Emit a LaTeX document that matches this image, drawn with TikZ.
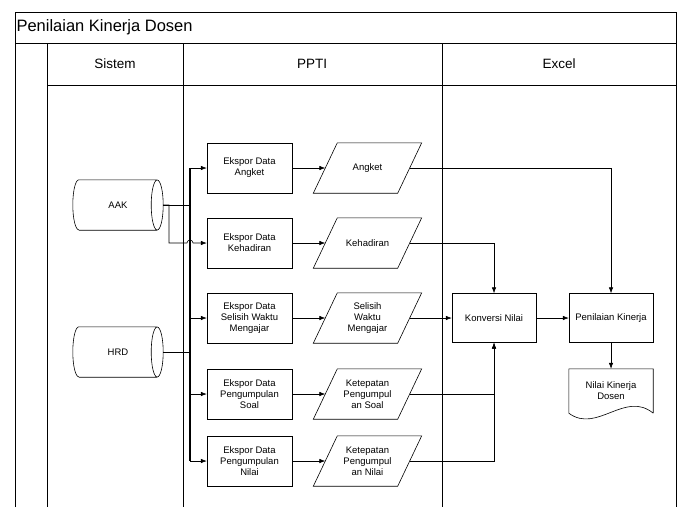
\documentclass[tikz,border=0pt]{standalone}
\usepackage{fontspec}
\setmainfont{Liberation Sans}
\usetikzlibrary{arrows.meta,calc}

\begin{document}
\begin{tikzpicture}[x=1pt,y=-1pt,
   >={Latex[length=6pt,width=4.5pt]},
   small/.style={font=\fontsize{9.5}{11}\selectfont},
   head/.style={font=\fontsize{13.5}{15}\selectfont},
   proc/.style={rectangle,draw,small,align=center,minimum width=85pt,
    minimum height=50pt,inner sep=1pt},
   io/.style={rectangle,small,align=center,minimum width=84pt,
    minimum height=50pt,inner sep=1pt},
   db/.style={rectangle,small,minimum width=90pt,minimum height=50pt,
    inner sep=1pt},
   flow/.style={->,line width=0.6pt}
    ]

    \useasboundingbox (0,0) rectangle (679,507);

    % Frame:
    \draw[line width=0.7pt] (15,507) -- (15,12) -- (676,12) -- (676,507);
    \draw[line width=0.7pt] (15,43) -- (676,43);
    \draw[line width=0.7pt] (47,85) -- (676,85);
    \draw[line width=0.7pt] (47,43) -- (47,507);
    \draw[line width=0.7pt] (183,43) -- (183,507);
    \draw[line width=0.7pt] (442,43) -- (442,507);
    \node[anchor=west,font=\fontsize{16.5}{18}\selectfont] at (13,27) (title) {Penilaian Kinerja Dosen};
    \node[head] at (115,64) (sistem) {Sistem};
    \node[head] at (312,64) (ppti) {PPTI};
    \node[head] at (559,64) (excel) {Excel};

    % Databases (drawn as cylinders):
    \node[db] at (118,205) (aak) {AAK};
    \node[db] at (118,352) (hrd) {HRD};
    \foreach \n in {aak,hrd}
      \draw[line width=0.6pt] ($(\n.south west)+(6,0)$) -- ($(\n.south east)+(-6,0)$)
        ($(\n.north east)+(-6,0)$) -- ($(\n.north west)+(6,0)$)
        arc (270:90:6 and 25)
        ($(\n.east)+(-6,0)$) ellipse (6 and 25);

    % Ekspor boxes:
    \node[proc] at (249.5,168) (e1) {Ekspor Data\\Angket};
    \node[proc] at (249.5,243) (e2) {Ekspor Data\\Kehadiran};
    \node[proc] at (249.5,318) (e3) {Ekspor Data\\Selisih Waktu\\Mengajar};
    \node[proc] at (249.5,394) (e4) {Ekspor Data\\Pengumpulan\\Soal};
    \node[proc] at (249.5,461) (e5) {Ekspor Data\\Pengumpulan\\Nilai};

    % Data (slanted outlines):
    \node[io] at (367.5,168) (d1) {Angket};
    \node[io] at (367.5,243) (d2) {Kehadiran};
    \node[io] at (367.5,318) (d3) {Selisih\\Waktu\\Mengajar};
    \node[io] at (367.5,394) (d4) {Ketepatan\\Pengumpul\\an Soal};
    \node[io] at (367.5,461) (d5) {Ketepatan\\Pengumpul\\an Nilai};
    \foreach \i in {1,...,5}
      \draw[line width=0.6pt] ($(d\i.south west)+(-12,0)$) -- ($(d\i.north west)+(12,0)$)
        -- ($(d\i.north east)+(12,0)$) -- ($(d\i.south east)+(-12,0)$) -- cycle;

    % Excel:
    \node[proc,minimum width=84pt,minimum height=49pt] at (494,318) (konv) {Konversi Nilai};
    \node[proc,minimum width=84pt,minimum height=49pt] at (611,318) (nilai) {Penilaian Kinerja};
    \node[small,align=center,minimum width=84pt,minimum height=44pt] at (611,391) (doc) {Nilai Kinerja\\Dosen};
    \draw[line width=0.6pt] (doc.south east) -- (doc.north east) -- (doc.north west)
      -- (doc.south west) .. controls (597,434) and (625,390) .. (doc.south east);

    % bus and split:
    \coordinate (bus) at (190,0);
    \coordinate (split) at (169,205);
    \draw[line width=1.2pt] (e1.west -| bus) -- (e5.west -| bus);

    % arrows
    \draw[flow] (aak.east) -- (aak.east -| bus) |- (e1.west);
    \draw[flow] (aak.east) -- (split) |- ($(e2.west -| bus)+(-3,0)$)
      arc (180:360:3) -- (e2.west); % hop over the bus
    \draw[flow] (hrd.east) -- (hrd.east -| bus) |- (e3.west);
    \draw[flow] (hrd.east -| bus) |- (e4.west);
    \draw[flow] (hrd.east -| bus) |- (e5.west);

    \foreach \i in {1,...,5}
      \draw[flow] (e\i) -- (d\i);

    \draw[flow] (d1.east) -| (nilai.north);
    \draw[flow] (d2.east) -| (konv.north);
    \draw[flow] (d3.east) -- (konv.west);
    \draw[flow] (d4.east) -| (konv.south);
    \draw[flow] (d5.east) -| (konv.south);
    \draw[flow] (konv) -- (nilai);
    \draw[flow] (nilai) -- (doc.north);

\end{tikzpicture}
\end{document}
